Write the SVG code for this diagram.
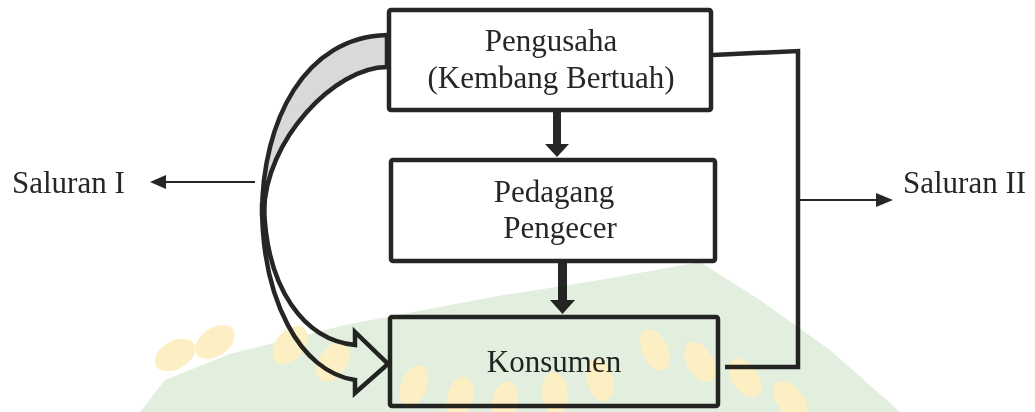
<svg xmlns="http://www.w3.org/2000/svg" width="1035" height="412" viewBox="0 0 1035 412">
<defs>
<style>
.box{fill:#ffffff;stroke:#262626;stroke-width:4.5;}
.lbl{font-family:"Liberation Serif","Times New Roman",serif;font-size:31px;fill:#262626;}
.conn{fill:none;stroke:#262626;stroke-width:4.5;}
.thin{fill:none;stroke:#262626;stroke-width:2;}
.head{fill:#262626;stroke:none;}
.grain{fill:#f9e49a;}
</style>
</defs>
<rect width="1035" height="412" fill="#ffffff"/>
<g id="connectors">
<path class="conn" d="M713,55 L798,51 L798,367 L725,367"/>
<rect class="head" x="553" y="112" width="8" height="33"/>
<polygon class="head" points="545,144 569,144 557,157"/>
<rect class="head" x="558" y="263" width="9" height="38"/>
<polygon class="head" points="550,300 575,300 562.5,314"/>
<line class="thin" x1="255" y1="182" x2="163" y2="182"/>
<polygon class="head" points="150,182 166,175 166,189"/>
<line class="thin" x1="800" y1="200" x2="878" y2="200"/>
<polygon class="head" points="893,200 876,193 876,207"/>
<g id="curved-arrow">
<path d="M387,35 C305,37 262,120 262,215 L264,212 C265,140 335,67 387,67 Z" fill="#d9d9d9" stroke="#262626" stroke-width="4.5" stroke-linejoin="round"/>
<path d="M262,205 C262,300 300,372 355,380 L355,393 L388,364 L355,332 L355,345 C305,340 266,290 264,205 Z" fill="#ffffff" stroke="#262626" stroke-width="4.5" stroke-linejoin="miter"/>
</g>
</g>
<g id="node-pengusaha">
<rect class="box" x="389" y="10" width="322" height="100" rx="2"/>
<text class="lbl" x="551" y="51" text-anchor="middle">Pengusaha</text>
<text class="lbl" x="551" y="88" text-anchor="middle">(Kembang Bertuah)</text>
</g>
<g id="node-pedagang">
<rect class="box" x="391" y="160" width="324" height="101" rx="2"/>
<text class="lbl" x="554" y="202" text-anchor="middle">Pedagang</text>
<text class="lbl" x="560" y="238" text-anchor="middle">Pengecer</text>
</g>
<g id="node-konsumen">
<rect class="box" x="390" y="317" width="328" height="89" rx="2"/>
<text class="lbl" x="554" y="372" text-anchor="middle">Konsumen</text>
</g>
<g id="side-labels">
<text class="lbl" x="12" y="193">Saluran I</text>
<text class="lbl" x="903" y="193">Saluran II</text>
</g>
<g id="watermark" style="mix-blend-mode:multiply" opacity="0.6">
<path d="M140,412 L165,380 L230,354 L345,325 L498,296 L600,280 L700,262 L760,300 L830,350 L900,412 Z" fill="#cfe2c8"/>
<g class="grain">
<ellipse cx="175" cy="355" rx="14" ry="22" transform="rotate(60 175 355)"/>
<ellipse cx="215" cy="342" rx="14" ry="22" transform="rotate(55 215 342)"/>
<ellipse cx="290" cy="345" rx="14" ry="22" transform="rotate(40 290 345)"/>
<ellipse cx="333" cy="362" rx="14" ry="22" transform="rotate(35 333 362)"/>
<ellipse cx="414" cy="386" rx="13" ry="22" transform="rotate(20 414 386)"/>
<ellipse cx="460" cy="398" rx="13" ry="22" transform="rotate(15 460 398)"/>
<ellipse cx="505" cy="403" rx="13" ry="22" transform="rotate(10 505 403)"/>
<ellipse cx="555" cy="394" rx="13" ry="22" transform="rotate(-5 555 394)"/>
<ellipse cx="600" cy="380" rx="13" ry="22" transform="rotate(-15 600 380)"/>
<ellipse cx="655" cy="350" rx="13" ry="22" transform="rotate(-25 655 350)"/>
<ellipse cx="700" cy="362" rx="13" ry="22" transform="rotate(-30 700 362)"/>
<ellipse cx="745" cy="378" rx="13" ry="22" transform="rotate(-35 745 378)"/>
<ellipse cx="790" cy="400" rx="13" ry="22" transform="rotate(-40 790 400)"/>
</g>
</g>
</svg>
